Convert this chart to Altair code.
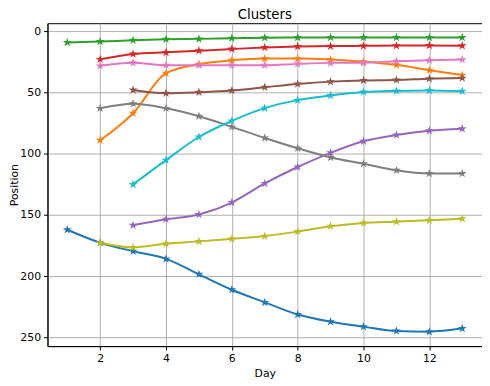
import altair as alt
import pandas as pd

days = list(range(1, 14))

clusters = ["Cluster 0", "Cluster 1", "Cluster 2", "Cluster 3", "Cluster 4",
            "Cluster 5", "Cluster 6", "Cluster 7", "Cluster 8", "Cluster 9"]
colors = ["#1f77b4", "#ff7f0e", "#2ca02c", "#d62728", "#9467bd",
          "#8c564b", "#e377c2", "#7f7f7f", "#bcbd22", "#17becf"]

c0 = [162, 172.6, 179.6, 185.8, 198.4, 211, 221.3, 231.2, 237.1, 241.1, 244.7, 245.2, 242.5]
c1 = [None, 89, 66.9, 34.2, 26.9, 23.7, 22.3, 22.3, 23.1, 24.8, 27.4, 31.8, 35.8]
c2 = [9.2, 8.4, 7.3, 6.5, 6.2, 5.7, 5.2, 5.1, 5.0, 5.0, 5.0, 5.0, 5.1]
c3 = [None, 22.9, 18.6, 17.2, 15.9, 14.5, 13.2, 12.4, 12.1, 11.9, 11.7, 11.6, 11.8]
c4 = [None, None, 158.4, 153.5, 149.5, 139.8, 124.2, 110.8, 99.2, 89.8, 84.7, 81.2, 79.6]
c5 = [None, None, 47.9, 50.6, 49.8, 48.4, 45.7, 43.0, 41.1, 40.1, 39.8, 38.7, 38.2]
c6 = [None, 28.2, 25.6, 27.7, 27.7, 27.7, 27.7, 26.6, 25.8, 25.6, 24.5, 23.7, 23.1]
c7 = [None, 62.9, 59.2, 62.9, 69.4, 78.0, 87.1, 95.5, 103.0, 108.1, 113.5, 116.1, 116.1]
c8 = [None, 172.6, 176.4, 173.4, 171.5, 169.4, 167.2, 163.5, 159.2, 156.5, 155.4, 154.3, 153.0]
c9 = [None, None, 125.0, 105.2, 86.3, 73.1, 62.7, 56.2, 52.4, 49.5, 48.7, 48.4, 48.9]

x_ticks = [2, 4, 6, 8, 10, 12]
y_ticks = [0, 50, 100, 150, 200, 250]

rows = []
for name, vals in zip(clusters, [c0, c1, c2, c3, c4, c5, c6, c7, c8, c9]):
    for d, v in zip(days, vals):
        if v is not None:
            rows.append({"cluster": name, "day": d, "pos": v})
df = pd.DataFrame(rows)

STAR = ("M0,-1L0.2245,-0.309L0.951,-0.309L0.3633,0.118L0.588,0.809L0,0.382"
        "L-0.588,0.809L-0.3633,0.118L-0.951,-0.309L-0.2245,-0.309Z")

x = alt.X("day:Q", title="Day",
          scale=alt.Scale(domain=[0.4, 13.6], nice=False, zero=False),
          axis=alt.Axis(values=x_ticks, format="d", titlePadding=4))
y = alt.Y("pos:Q", title="Position",
          scale=alt.Scale(domain=[-6.6, 257], nice=False, zero=False, reverse=True),
          axis=alt.Axis(values=y_ticks, format="d", titlePadding=0.5))
color = alt.Color("cluster:N", scale=alt.Scale(domain=clusters, range=colors), legend=None)

base = alt.Chart(df).encode(x=x, y=y, color=color)

lines = base.mark_line(interpolate="monotone", strokeWidth=2).encode(detail="cluster:N")
points = base.mark_point(shape=STAR, filled=True, size=90, opacity=1)

chart = alt.layer(lines, points).properties(
    width=440, height=327,
    title=alt.TitleParams("Clusters", fontSize=13.5, fontWeight="normal", color="black",
                          frame="group", baseline="alphabetic", offset=-9, anchor="middle"),
    autosize=alt.AutoSizeParams(type="none"),
    padding={"left": 40, "top": 13, "right": 0, "bottom": 37},
).configure(font="DejaVu Sans").configure_view(
    stroke="black", strokeWidth=1
).configure_axis(
    labelFont="DejaVu Sans", titleFont="DejaVu Sans",
    labelFontSize=11, titleFontSize=11, labelColor="black", titleColor="black",
    titleFontWeight="normal", domainColor="black", tickColor="black",
    tickSize=4, labelPadding=3, gridColor="#b0b0b0", gridWidth=1, domainWidth=1
)

chart.save("out.html", embed_options={"renderer": "svg", "actions": False})
